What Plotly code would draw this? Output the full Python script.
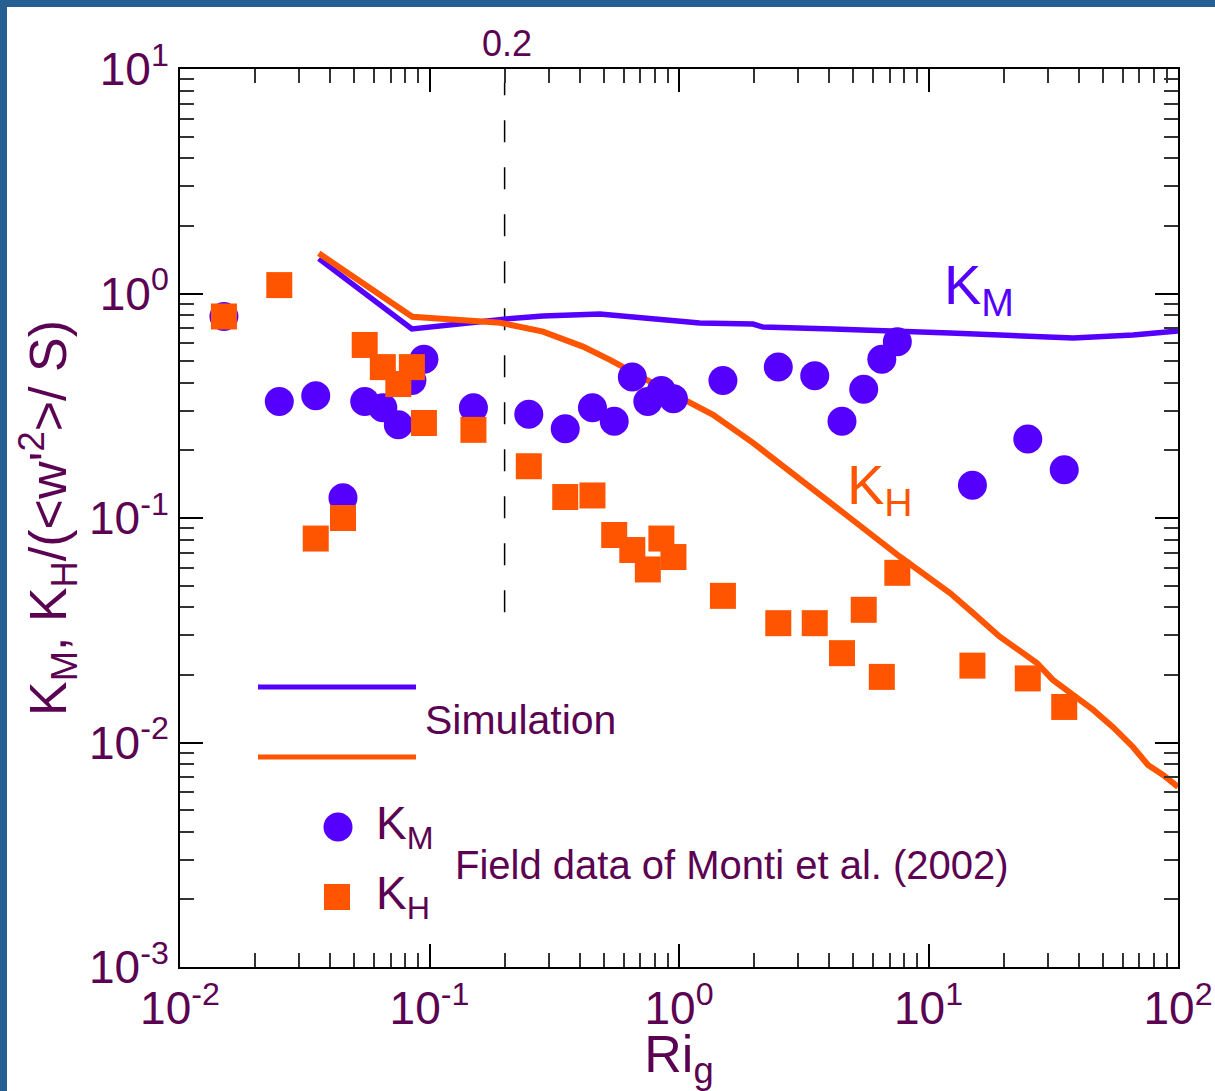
import plotly.graph_objects as go

# Richardson-number bins of the field data (Monti et al. 2002)
ri_bins = [0.015, 0.025, 0.035, 0.045, 0.055, 0.065, 0.075, 0.085, 0.095,
           0.15, 0.25, 0.35, 0.45, 0.55, 0.65, 0.75, 0.85, 0.95,
           1.5, 2.5, 3.5, 4.5, 5.5, 6.5, 7.5, 15, 25, 35]
km_field = [0.79, 0.33, 0.35, 0.123, 0.33, 0.31, 0.26, 0.41, 0.51,
            0.31, 0.29, 0.25, 0.31, 0.27, 0.425, 0.33, 0.37, 0.34,
            0.41, 0.47, 0.43, 0.27, 0.375, 0.51, 0.61, 0.14, 0.225, 0.164]
kh_field = [0.79, 1.09, 0.081, 0.100, 0.59, 0.47, 0.395, 0.47, 0.265,
            0.247, 0.170, 0.124, 0.126, 0.084, 0.072, 0.059, 0.081, 0.067,
            0.045, 0.034, 0.034, 0.025, 0.039, 0.0196, 0.057, 0.022, 0.0193, 0.0144]

# Simulation curves
ri_sim_m = [0.036, 0.085, 0.203, 0.285, 0.482, 1.21, 1.98, 2.17, 4.14,
            7.69, 12.2, 19.3, 38.0, 66.0, 100]
km_sim = [1.43, 0.695, 0.770, 0.794, 0.810, 0.739, 0.731, 0.709, 0.695,
          0.674, 0.667, 0.653, 0.634, 0.653, 0.681]
ri_sim_h = [0.036, 0.0853, 0.192, 0.285, 0.412, 0.529, 0.765, 1.37, 1.98,
            3.05, 4.85, 7.69, 12.2, 15.1, 19.3, 27.2, 31.5, 45.6, 54.9,
            66.0, 75.8, 87.1, 100]
kh_sim = [1.51, 0.788, 0.741, 0.676, 0.580, 0.506, 0.405, 0.288, 0.216,
          0.148, 0.100, 0.0672, 0.0463, 0.0377, 0.0296, 0.0226, 0.0190,
          0.0140, 0.0117, 0.00955, 0.00794, 0.00717, 0.00634]

# critical Richardson number marker
ri_crit = [0.2, 0.2]
crit_span = [0.038, 8.7]

x_tickvals = [0.01, 0.1, 1, 10, 100]
x_ticktext = ["10<sup>-2</sup>", "10<sup>-1</sup>", "10<sup>0</sup>",
              "10<sup>1</sup>", "10<sup>2</sup>"]
y_tickvals = [0.001, 0.01, 0.1, 1, 10]
y_ticktext = ["10<sup>-3</sup>", "10<sup>-2</sup>", "10<sup>-1</sup>",
              "10<sup>0</sup>", "10<sup>1</sup>"]

BLUE = "#5500ff"
ORANGE = "#ff5500"
PURPLE = "#5b0352"
FRAME = "#285f93"
FONT = "Liberation Sans, Arial, sans-serif"

W, H = 1215, 1091
ML, MR, MT, MB = 180, 37, 69, 124
PW, PH = W - ML - MR, H - MT - MB


def px(x):
    return (x - ML) / PW


def py(y):
    return (H - MB - y) / PH


fig = go.Figure()

fig.add_trace(go.Scatter(x=ri_crit, y=crit_span, mode="lines",
                         line=dict(color="black", width=1.5, dash="22px,25px"),
                         showlegend=False, hoverinfo="skip"))
fig.add_trace(go.Scatter(x=ri_sim_m, y=km_sim, mode="lines",
                         line=dict(color=BLUE, width=5.5), showlegend=False))
fig.add_trace(go.Scatter(x=ri_sim_h, y=kh_sim, mode="lines",
                         line=dict(color=ORANGE, width=6), showlegend=False))
fig.add_trace(go.Scatter(x=ri_bins, y=km_field, mode="markers",
                         marker=dict(symbol="circle", size=29, color=BLUE,
                                     line=dict(width=0)),
                         showlegend=False))
fig.add_trace(go.Scatter(x=ri_bins, y=kh_field, mode="markers",
                         marker=dict(symbol="square", size=26, color=ORANGE,
                                     line=dict(width=0)),
                         showlegend=False))

# hand-built key on an overlay unit axis
fig.add_trace(go.Scatter(x=[px(258), px(416)], y=[py(687), py(687)], mode="lines",
                         line=dict(color=BLUE, width=5), xaxis="x2", yaxis="y2",
                         showlegend=False, hoverinfo="skip"))
fig.add_trace(go.Scatter(x=[px(258), px(416)], y=[py(757), py(757)], mode="lines",
                         line=dict(color=ORANGE, width=5), xaxis="x2", yaxis="y2",
                         showlegend=False, hoverinfo="skip"))
fig.add_trace(go.Scatter(x=[px(338)], y=[py(827)], mode="markers",
                         marker=dict(symbol="circle", size=29, color=BLUE),
                         xaxis="x2", yaxis="y2", showlegend=False, hoverinfo="skip"))
fig.add_trace(go.Scatter(x=[px(337)], y=[py(897)], mode="markers",
                         marker=dict(symbol="square", size=26, color=ORANGE),
                         xaxis="x2", yaxis="y2", showlegend=False, hoverinfo="skip"))

axis_common = dict(
    type="log",
    automargin=False,
    showgrid=False,
    zeroline=False,
    showline=True,
    linecolor="black",
    linewidth=2,
    mirror="allticks",
    ticks="inside",
    ticklen=23,
    tickwidth=1.5,
    tickcolor="black",
    tickmode="array",
    tickfont=dict(family=FONT, size=46, color=PURPLE),
    minor=dict(ticks="inside", ticklen=14, tickwidth=1.5, tickcolor="#333333",
               dtick="D1", showgrid=False),
)

fig.update_layout(
    template="none",
    width=W, height=H,
    autosize=False,
    margin=dict(l=ML, r=MR, t=MT, b=MB, pad=0, autoexpand=False),
    paper_bgcolor="white",
    plot_bgcolor="white",
    font=dict(family=FONT, color=PURPLE),
    showlegend=False,
    xaxis=dict(axis_common, range=[-2, 2], tickvals=x_tickvals, ticktext=x_ticktext,
               title=dict(text="Ri<sub>g</sub>", font=dict(size=52, color=PURPLE),
                          standoff=8)),
    yaxis=dict(axis_common, range=[-3, 1], tickvals=y_tickvals, ticktext=y_ticktext,
               title=dict(text="K<sub>M</sub>, K<sub>H</sub>/(&lt;w'<sup>2</sup>&gt;/ S)",
                          font=dict(size=52, color=PURPLE), standoff=6)),
    xaxis2=dict(overlaying="x", anchor="y2", range=[0, 1], visible=False),
    yaxis2=dict(overlaying="y", anchor="x2", range=[0, 1], visible=False),
)

annos = [
    dict(text="0.2", x=px(507), y=py(43), size=36, color=PURPLE, xanchor="center"),
    dict(text="K<sub>M</sub>", x=px(942), y=py(288), size=56, color=BLUE, xanchor="left"),
    dict(text="K<sub>H</sub>", x=px(845), y=py(488), size=56, color=ORANGE, xanchor="left"),
    dict(text="Simulation", x=px(423), y=py(720), size=41, color=PURPLE, xanchor="left"),
    dict(text="K<sub>M</sub>", x=px(374), y=py(826), size=46, color=PURPLE, xanchor="left"),
    dict(text="K<sub>H</sub>", x=px(374), y=py(896), size=46, color=PURPLE, xanchor="left"),
    dict(text="Field data of Monti et al. (2002)", x=px(453), y=py(865), size=40,
         color=PURPLE, xanchor="left"),
]
for a in annos:
    fig.add_annotation(text=a["text"], x=a["x"], y=a["y"], xref="paper", yref="paper",
                       xanchor=a["xanchor"], yanchor="middle", showarrow=False,
                       font=dict(family=FONT, size=a["size"], color=a["color"]))

# blue frame along the left and top of the page
fig.add_shape(type="rect", xref="paper", yref="paper",
              x0=px(0), x1=px(7), y0=py(H), y1=py(0),
              fillcolor=FRAME, line=dict(width=0), layer="above")
fig.add_shape(type="rect", xref="paper", yref="paper",
              x0=px(0), x1=px(W), y0=py(7), y1=py(0),
              fillcolor=FRAME, line=dict(width=0), layer="above")

fig.write_html("out.html", config={"responsive": False})
